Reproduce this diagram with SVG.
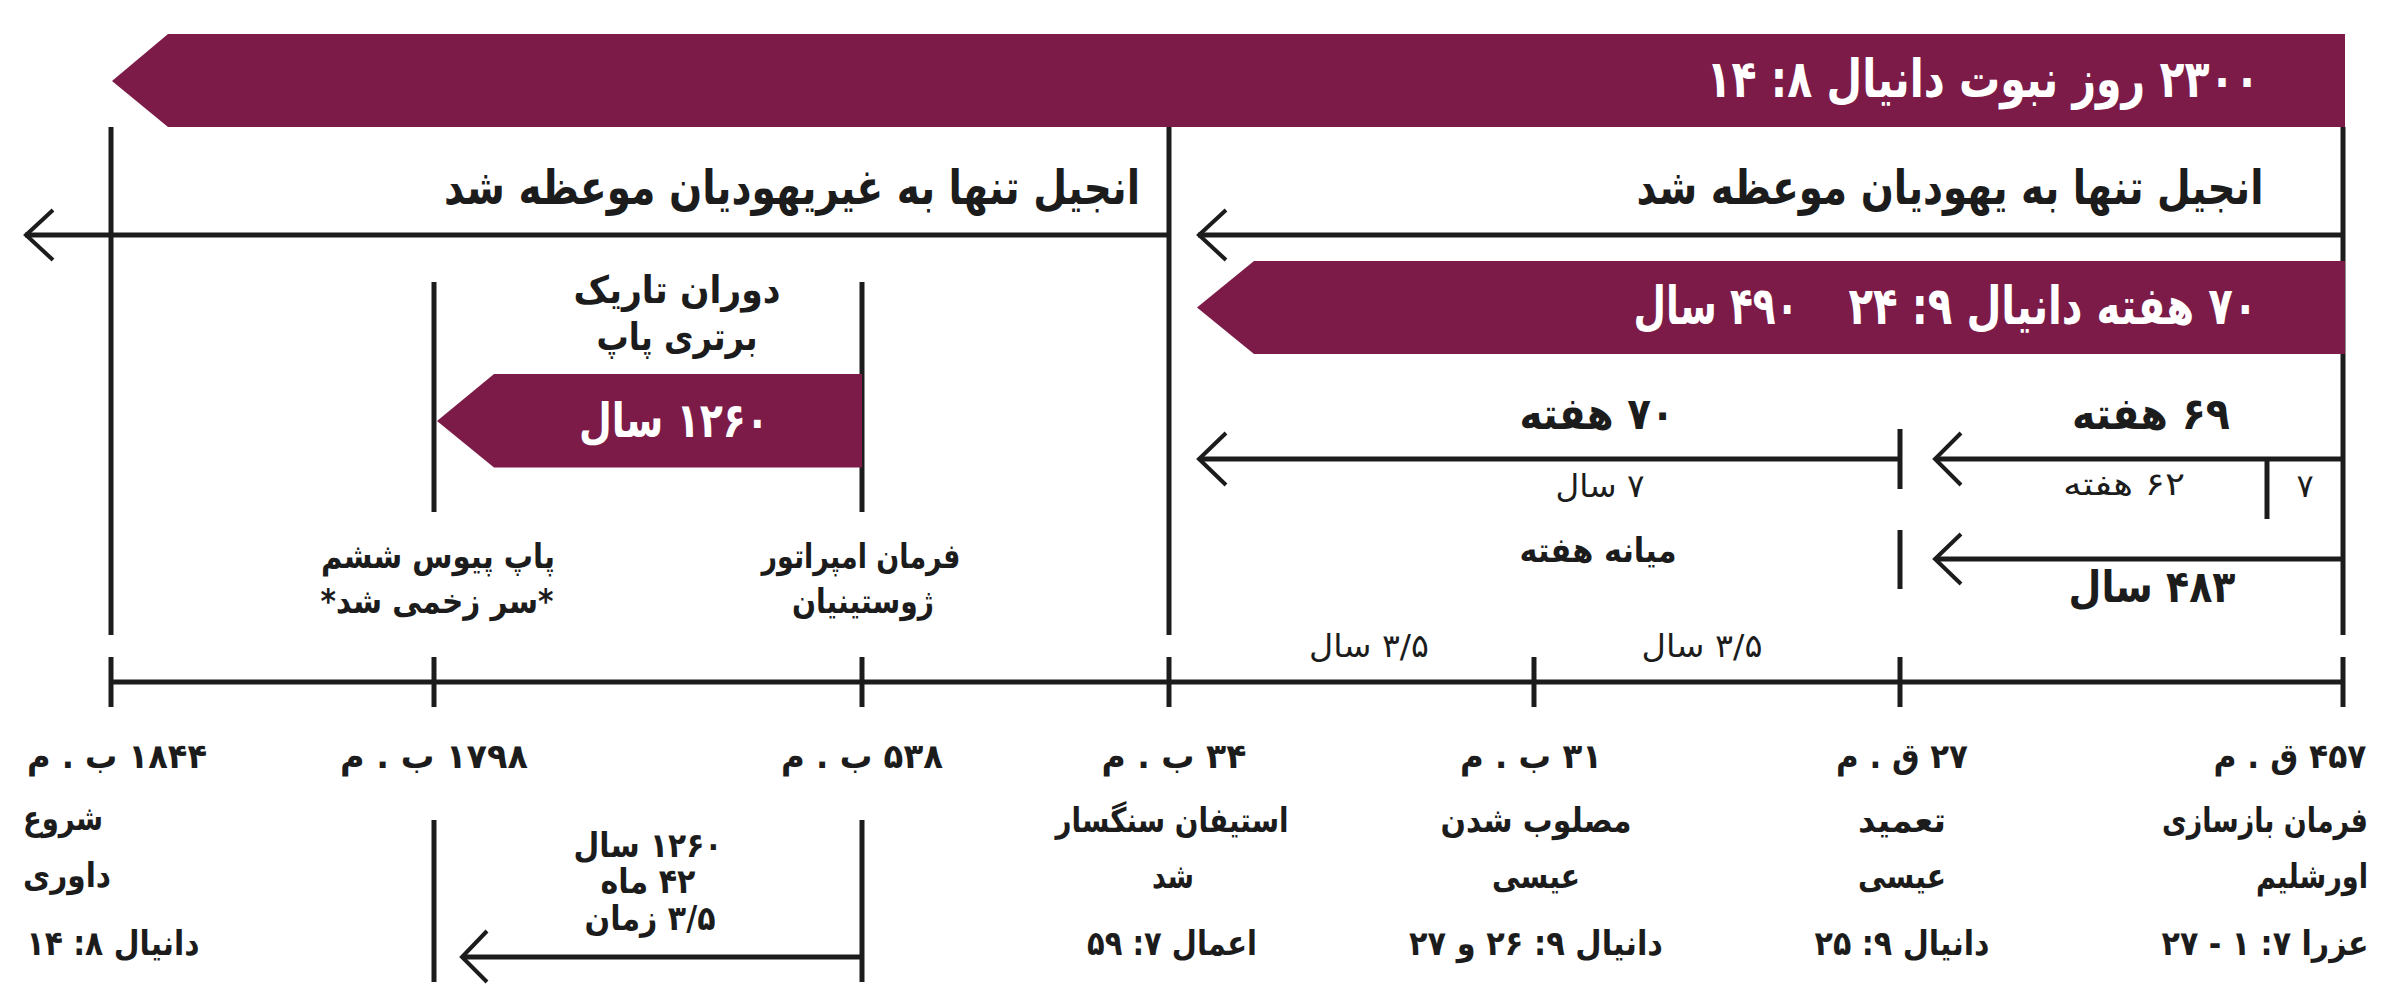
<svg xmlns="http://www.w3.org/2000/svg" width="2398" height="994" viewBox="0 0 2398 994">
<style>
.bn{fill:#7C1B47}
.ln{stroke:#1c1c1c;stroke-width:5;fill:none}
.ch{stroke:#1c1c1c;stroke-width:4;fill:none;stroke-linejoin:miter}
text{font-family:"DejaVu Sans",sans-serif;direction:rtl;fill:#1c1c1c}
.w{fill:#ffffff}
.b{font-weight:bold}
.t52{font-size:52px}
.t48{font-size:48px}
.t44{font-size:44px}
.t38{font-size:38px}
.t34{font-size:34px}
.t32{font-size:32px}
.t29{font-size:29px}
.m{text-anchor:middle}
.r{text-anchor:start}
.l{text-anchor:end}
</style>
<rect width="2398" height="994" fill="#ffffff"/>
<g id="connectors">
<line class="ln" x1="111" y1="127" x2="111" y2="635"/>
<line class="ln" x1="1169" y1="127" x2="1169" y2="635"/>
<line class="ln" x1="2343" y1="127" x2="2343" y2="635"/>
<line class="ln" x1="25" y1="235" x2="1169" y2="235"/>
<polyline class="ch" points="53,210 26,235 53,260"/>
<line class="ln" x1="1198" y1="235" x2="2343" y2="235"/>
<polyline class="ch" points="1226,210 1199,235 1226,260"/>
<line class="ln" x1="434" y1="282" x2="434" y2="512"/>
<line class="ln" x1="862" y1="282" x2="862" y2="512"/>
<line class="ln" x1="1199" y1="459" x2="1900" y2="459"/>
<polyline class="ch" points="1226,433 1199,459 1226,485"/>
<line class="ln" x1="1900" y1="429" x2="1900" y2="489"/>
<line class="ln" x1="1935" y1="459" x2="2343" y2="459"/>
<polyline class="ch" points="1961,433 1935,459 1961,485"/>
<line class="ln" x1="2267" y1="459" x2="2267" y2="519"/>
<line class="ln" x1="1900" y1="530" x2="1900" y2="589"/>
<line class="ln" x1="1935" y1="559" x2="2343" y2="559"/>
<polyline class="ch" points="1961,534 1935,559 1961,584"/>
<line class="ln" x1="111" y1="682" x2="2343" y2="682"/>
<line class="ln" x1="111" y1="657" x2="111" y2="707"/>
<line class="ln" x1="434" y1="657" x2="434" y2="707"/>
<line class="ln" x1="862" y1="657" x2="862" y2="707"/>
<line class="ln" x1="1169" y1="657" x2="1169" y2="707"/>
<line class="ln" x1="1534" y1="657" x2="1534" y2="707"/>
<line class="ln" x1="1900" y1="657" x2="1900" y2="707"/>
<line class="ln" x1="2343" y1="657" x2="2343" y2="707"/>
<line class="ln" x1="434" y1="820" x2="434" y2="982"/>
<line class="ln" x1="862" y1="820" x2="862" y2="982"/>
<line class="ln" x1="462" y1="957" x2="862" y2="957"/>
<polyline class="ch" points="487,931 462,957 487,982"/>
</g>
<g id="banner-2300">
<polygon class="bn" points="168,34 2345,34 2345,127 168,127 112,81"/>
<text class="w b t52 m" x="1983" y="97" textLength="553" lengthAdjust="spacingAndGlyphs">۲۳۰۰ روز نبوت دانیال ۸: ۱۴</text>
</g>
<g id="gospel-gentiles">
<text class="b t48 m" x="792" y="204" textLength="696" lengthAdjust="spacingAndGlyphs">انجیل تنها به غیریهودیان موعظه شد</text>
</g>
<g id="gospel-jews">
<text class="b t48 m" x="1950" y="204" textLength="627" lengthAdjust="spacingAndGlyphs">انجیل تنها به یهودیان موعظه شد</text>
</g>
<g id="banner-70-weeks">
<polygon class="bn" points="1254,261 2345,261 2345,354 1254,354 1197,307.5"/>
<text class="w b t52 m" x="2053" y="324" textLength="409" lengthAdjust="spacingAndGlyphs">۷۰ هفته دانیال ۹: ۲۴</text>
<text class="w b t52 m" x="1716" y="324" textLength="165" lengthAdjust="spacingAndGlyphs">۴۹۰ سال</text>
</g>
<g id="dark-ages">
<text class="b t38 m" x="677" y="303" textLength="207" lengthAdjust="spacingAndGlyphs">دوران تاریک</text>
<text class="b t38 m" x="677" y="350" textLength="161" lengthAdjust="spacingAndGlyphs">برتری پاپ</text>
</g>
<g id="banner-1260">
<polygon class="bn" points="494,374 862,374 862,467.5 494,467.5 437,421"/>
<text class="w b t48 m" x="674" y="437" textLength="190" lengthAdjust="spacingAndGlyphs">۱۲۶۰ سال</text>
</g>
<g id="pope-pius">
<text class="b t34 m" x="438" y="568" textLength="234" lengthAdjust="spacingAndGlyphs">پاپ پیوس ششم</text>
<text class="b t34 m" x="437" y="613" textLength="233" lengthAdjust="spacingAndGlyphs">*سر زخمی شد*</text>
</g>
<g id="justinian">
<text class="b t34 m" x="861" y="568" textLength="199" lengthAdjust="spacingAndGlyphs">فرمان امپراتور</text>
<text class="b t34 m" x="863" y="613" textLength="142" lengthAdjust="spacingAndGlyphs">ژوستینیان</text>
</g>
<g id="week-70">
<text class="b t44 m" x="1597" y="429" textLength="155" lengthAdjust="spacingAndGlyphs">۷۰ هفته</text>
<text class="t32 m" x="1600" y="497" textLength="89" lengthAdjust="spacingAndGlyphs">۷ سال</text>
<text class="b t34 m" x="1598" y="562" textLength="157" lengthAdjust="spacingAndGlyphs">میانه هفته</text>
</g>
<g id="weeks-69">
<text class="b t44 m" x="2151" y="429" textLength="158" lengthAdjust="spacingAndGlyphs">۶۹ هفته</text>
<text class="t32 m" x="2124" y="495" textLength="122" lengthAdjust="spacingAndGlyphs">۶۲ هفته</text>
<text class="t32 m" x="2305" y="497">۷</text>
<text class="b t44 m" x="2152" y="602" textLength="167" lengthAdjust="spacingAndGlyphs">۴۸۳ سال</text>
</g>
<g id="half-weeks">
<text class="t32 m" x="1369" y="657" textLength="120" lengthAdjust="spacingAndGlyphs">۳/۵ سال</text>
<text class="t32 m" x="1702" y="657" textLength="121" lengthAdjust="spacingAndGlyphs">۳/۵ سال</text>
</g>
<g id="date-1844">
<text class="b t34 m" x="117" y="768" textLength="180" lengthAdjust="spacingAndGlyphs">۱۸۴۴ ب . م</text>
<text class="b t34 m" x="63" y="830" textLength="80" lengthAdjust="spacingAndGlyphs">شروع</text>
<text class="b t34 m" x="67" y="887" textLength="88" lengthAdjust="spacingAndGlyphs">داوری</text>
<text class="b t34 m" x="113" y="955" textLength="173" lengthAdjust="spacingAndGlyphs">دانیال ۸: ۱۴</text>
</g>
<g id="date-1798">
<text class="b t34 m" x="434" y="768" textLength="188" lengthAdjust="spacingAndGlyphs">۱۷۹۸ ب . م</text>
</g>
<g id="date-538">
<text class="b t34 m" x="862" y="768" textLength="162" lengthAdjust="spacingAndGlyphs">۵۳۸ ب . م</text>
</g>
<g id="period-1260">
<text class="b t34 m" x="648" y="857" textLength="149" lengthAdjust="spacingAndGlyphs">۱۲۶۰ سال</text>
<text class="b t34 m" x="648" y="893" textLength="95" lengthAdjust="spacingAndGlyphs">۴۲ ماه</text>
<text class="b t34 m" x="650" y="930" textLength="131" lengthAdjust="spacingAndGlyphs">۳/۵ زمان</text>
</g>
<g id="date-34">
<text class="b t34 m" x="1174" y="768" textLength="145" lengthAdjust="spacingAndGlyphs">۳۴ ب . م</text>
<text class="b t34 m" x="1172" y="832" textLength="233" lengthAdjust="spacingAndGlyphs">استیفان سنگسار</text>
<text class="b t34 m" x="1173" y="888" textLength="42" lengthAdjust="spacingAndGlyphs">شد</text>
<text class="b t34 m" x="1172" y="955" textLength="170" lengthAdjust="spacingAndGlyphs">اعمال ۷: ۵۹</text>
</g>
<g id="date-31">
<text class="b t34 m" x="1531" y="768" textLength="142" lengthAdjust="spacingAndGlyphs">۳۱ ب . م</text>
<text class="b t34 m" x="1536" y="832" textLength="191" lengthAdjust="spacingAndGlyphs">مصلوب شدن</text>
<text class="b t34 m" x="1536" y="888" textLength="88" lengthAdjust="spacingAndGlyphs">عیسی</text>
<text class="b t34 m" x="1536" y="955" textLength="254" lengthAdjust="spacingAndGlyphs">دانیال ۹: ۲۶ و ۲۷</text>
</g>
<g id="date-27">
<text class="b t34 m" x="1902" y="768" textLength="132" lengthAdjust="spacingAndGlyphs">۲۷ ق . م</text>
<text class="b t34 m" x="1902" y="832" textLength="88" lengthAdjust="spacingAndGlyphs">تعمید</text>
<text class="b t34 m" x="1902" y="888" textLength="88" lengthAdjust="spacingAndGlyphs">عیسی</text>
<text class="b t34 m" x="1902" y="955" textLength="175" lengthAdjust="spacingAndGlyphs">دانیال ۹: ۲۵</text>
</g>
<g id="date-457">
<text class="b t34 m" x="2290" y="768" textLength="153" lengthAdjust="spacingAndGlyphs">۴۵۷ ق . م</text>
<text class="b t34 m" x="2265" y="832" textLength="206" lengthAdjust="spacingAndGlyphs">فرمان بازسازی</text>
<text class="b t34 m" x="2312" y="888" textLength="112" lengthAdjust="spacingAndGlyphs">اورشلیم</text>
<text class="b t34 m" x="2265" y="955" textLength="207" lengthAdjust="spacingAndGlyphs">عزرا ۷: ۱ - ۲۷</text>
</g>
</svg>
